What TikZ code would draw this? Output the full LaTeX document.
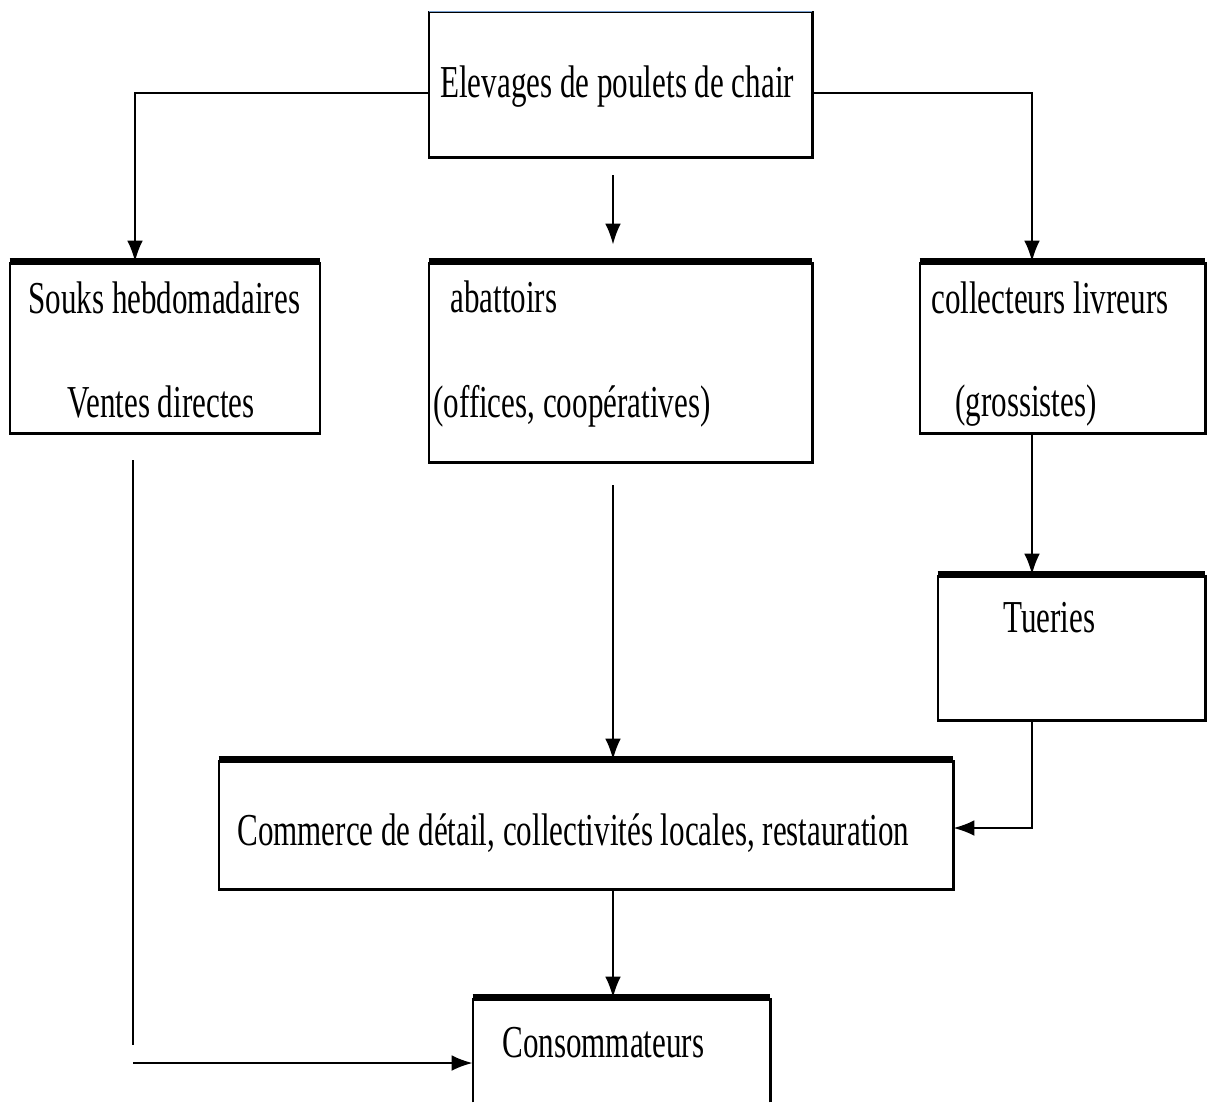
\documentclass[tikz,border=0pt]{standalone}
\usepackage{fontspec}
\setmainfont{Liberation Serif}[FakeStretch=0.68]
\usetikzlibrary{fit,arrows.meta}

\definecolor{topblue}{RGB}{120,160,210}

\tikzset{
  box/.style={draw=none, inner sep=0pt, fit={#1}},
  lbl/.style={anchor=base west, inner sep=0pt, font=\fontsize{26}{30}\selectfont},
  topbar/.style={line width=4pt},
  side/.style={line width=1.3pt},
  conn/.style={line width=1.3pt},
  arr/.style={line width=1.3pt, -{Latex[length=12pt,width=9pt]}},
}

\begin{document}
\begin{tikzpicture}[x=0.02cm, y=-0.02cm, line join=miter]

\useasboundingbox (0,0) rectangle (1207,1110);

% Columns
\coordinate (colL) at (135,0);
\coordinate (colM) at (613,0);
\coordinate (colR) at (1032,0);

% Boxes
\node[box={(429,12) (812,157)}] (elev) {};
\node[box={(10,262) (320,433)}] (souks) {};
\node[box={(429,262) (812,462)}] (abat) {};
\node[box={(920,262) (1205,433)}] (coll) {};
\node[box={(938,575) (1205,720)}] (tuer) {};
\node[box={(219,760) (953,889)}] (comm) {};
\node[box={(473,998) (770,1102)}] (conso) {};

% Borders
\draw[side] (elev.north west) rectangle (elev.south east);
\draw[line width=0.8pt, topblue] (elev.north west) -- (elev.north east);
\foreach \b in {souks,abat,coll,tuer,comm} {
  \draw[side] (\b.north west) |- (\b.south east) -- (\b.north east);
}
\draw[side] (conso.south west) -- (conso.north west);
\draw[side] (conso.south east) -- (conso.north east);

% Texts
\node[lbl] (elevtxt) at (440,97) {Elevages de poulets de chair};
\node[lbl] (soukstxt) at (28,313) {Souks hebdomadaires};
\node[lbl] (ventestxt) at (67,417) {Ventes directes};
\node[lbl] (abattxt) at (450,312) {abattoirs};
\node[lbl] (officetxt) at (433,417) {(offices, coopératives)};
\node[lbl] (colltxt) at (931,313) {collecteurs livreurs};
\node[lbl] (grosstxt) at (955,416) {(grossistes)};
\node[lbl] (tuertxt) at (1003,632) {Tueries};
\node[lbl] (commtxt) at (237,845) {Commerce de détail, collectivités locales, restauration};
\node[lbl] (consotxt) at (502,1057) {Consommateurs};

% Connectors
\draw[arr] (elev.west |- 0,93) -| (souks.north -| colL);
\draw[arr] (elev.east |- 0,93) -| (coll.north -| colR);
\draw[arr, shorten <=0.36cm, shorten >=0.34cm] (elev.south -| colM) -- (abat.north -| colM);

\coordinate (soukend) at (133,1045);
\coordinate (soukturn) at (133,1063);
\draw[conn, shorten <=0.54cm] (souks.south -| soukend) -- (soukend);
\draw[arr] (soukturn) -- (conso.west |- soukturn);

\draw[arr, shorten <=0.46cm] (abat.south -| colM) -- (comm.north -| colM);
\draw[arr] (coll.south -| colR) -- (tuer.north -| colR);
\draw[arr] (tuer.south -| colR) |- (comm.east |- 0,828);
\draw[arr] (comm.south -| colM) -- (conso.north -| colM);

% Top bars
\foreach \b in {souks,abat,coll,tuer,comm,conso} {
  \draw[topbar] (\b.north west) -- (\b.north east);
}

\end{tikzpicture}
\end{document}
